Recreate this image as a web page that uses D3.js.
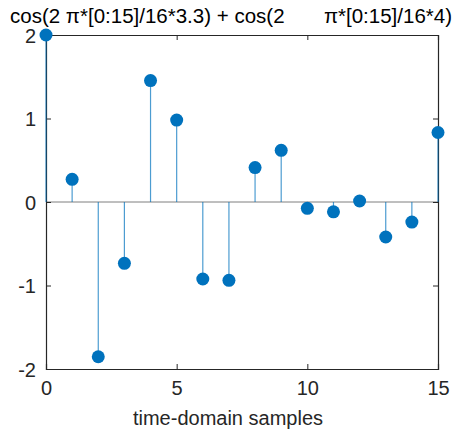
<!DOCTYPE html>
<html><head><meta charset="utf-8">
<script src="https://cdn.jsdelivr.net/npm/d3@7"></script>
<style>body{margin:0;background:#fff}svg{display:block;font-family:"Liberation Sans",Arial,sans-serif}</style>
</head><body><svg id="c" width="456" height="437"></svg>
<script>
const samples = [0,1,2,3,4,5,6,7,8,9,10,11,12,13,14,15];
const values = [2.000,0.271,-1.853,-0.734,1.454,0.981,-0.922,-0.938,0.412,0.619,-0.076,-0.118,0.012,-0.419,-0.240,0.832];
const xTicks = [0,5,10,15];
const yTicks = [-2,-1,0,1,2];
const titleLeft = "cos(2 \u03c0*[0:15]/16*3.3) + cos(2";
const titleRight = "\u03c0*[0:15]/16*4)";
const xLabel = "time-domain samples";

const svg = d3.select("#c");
const L=46,R=438,T=35,B=369;
const x = d3.scaleLinear().domain([0,15]).range([L,R]);
const y = d3.scaleLinear().domain([-2,2]).range([B,T]);
const ax="#262626";
const fmt = d => String(d);

svg.append("line").attr("x1",L).attr("x2",R).attr("y1",y(0)).attr("y2",y(0)).attr("stroke","#7f7f7f").attr("stroke-width",1);

const gx = svg.append("g").attr("transform",`translate(0,${B})`).call(d3.axisBottom(x).tickValues(xTicks).tickSize(-5).tickPadding(12).tickFormat(fmt));
const gxt = svg.append("g").attr("transform",`translate(0,${T})`).call(d3.axisTop(x).tickValues(xTicks).tickSize(-5).tickFormat(""));
const gy = svg.append("g").attr("transform",`translate(${L},0)`).call(d3.axisLeft(y).tickValues(yTicks).tickSize(-5).tickPadding(10).tickFormat(fmt));
const gyr = svg.append("g").attr("transform",`translate(${R},0)`).call(d3.axisRight(y).tickValues(yTicks).tickSize(-5).tickFormat(""));
[gx,gxt,gy,gyr].forEach(g=>{
  g.selectAll("path").attr("stroke",ax).attr("stroke-width",1.2);
  g.selectAll("line").attr("stroke",ax);
  g.selectAll("text").attr("fill",ax).style("font-size","20px").style("font-family","Liberation Sans, Arial, sans-serif");
});
gy.selectAll(".tick text").attr("dy","0.36em");

svg.append("g").selectAll("line").data(samples).join("line")
  .attr("x1",d=>x(d)).attr("x2",d=>x(d)).attr("y1",y(0)).attr("y2",(d,i)=>y(values[i]))
  .attr("stroke","#0072BD").attr("stroke-width",1.2).attr("stroke-opacity",0.7);
svg.append("g").selectAll("circle").data(samples).join("circle")
  .attr("cx",d=>x(d)).attr("cy",(d,i)=>y(values[i])).attr("r",6.5).attr("fill","#0072BD");

svg.append("text").attr("x",10).attr("y",23).attr("text-anchor","start").attr("fill","#000")
  .style("font-size","20.5px").text(titleLeft);
svg.append("text").attr("x",452).attr("y",23).attr("text-anchor","end").attr("fill","#000")
  .style("font-size","20.5px").text(titleRight);
svg.append("text").attr("x",228).attr("y",425).attr("text-anchor","middle").attr("fill",ax)
  .style("font-size","20px").text(xLabel);
</script></body></html>
